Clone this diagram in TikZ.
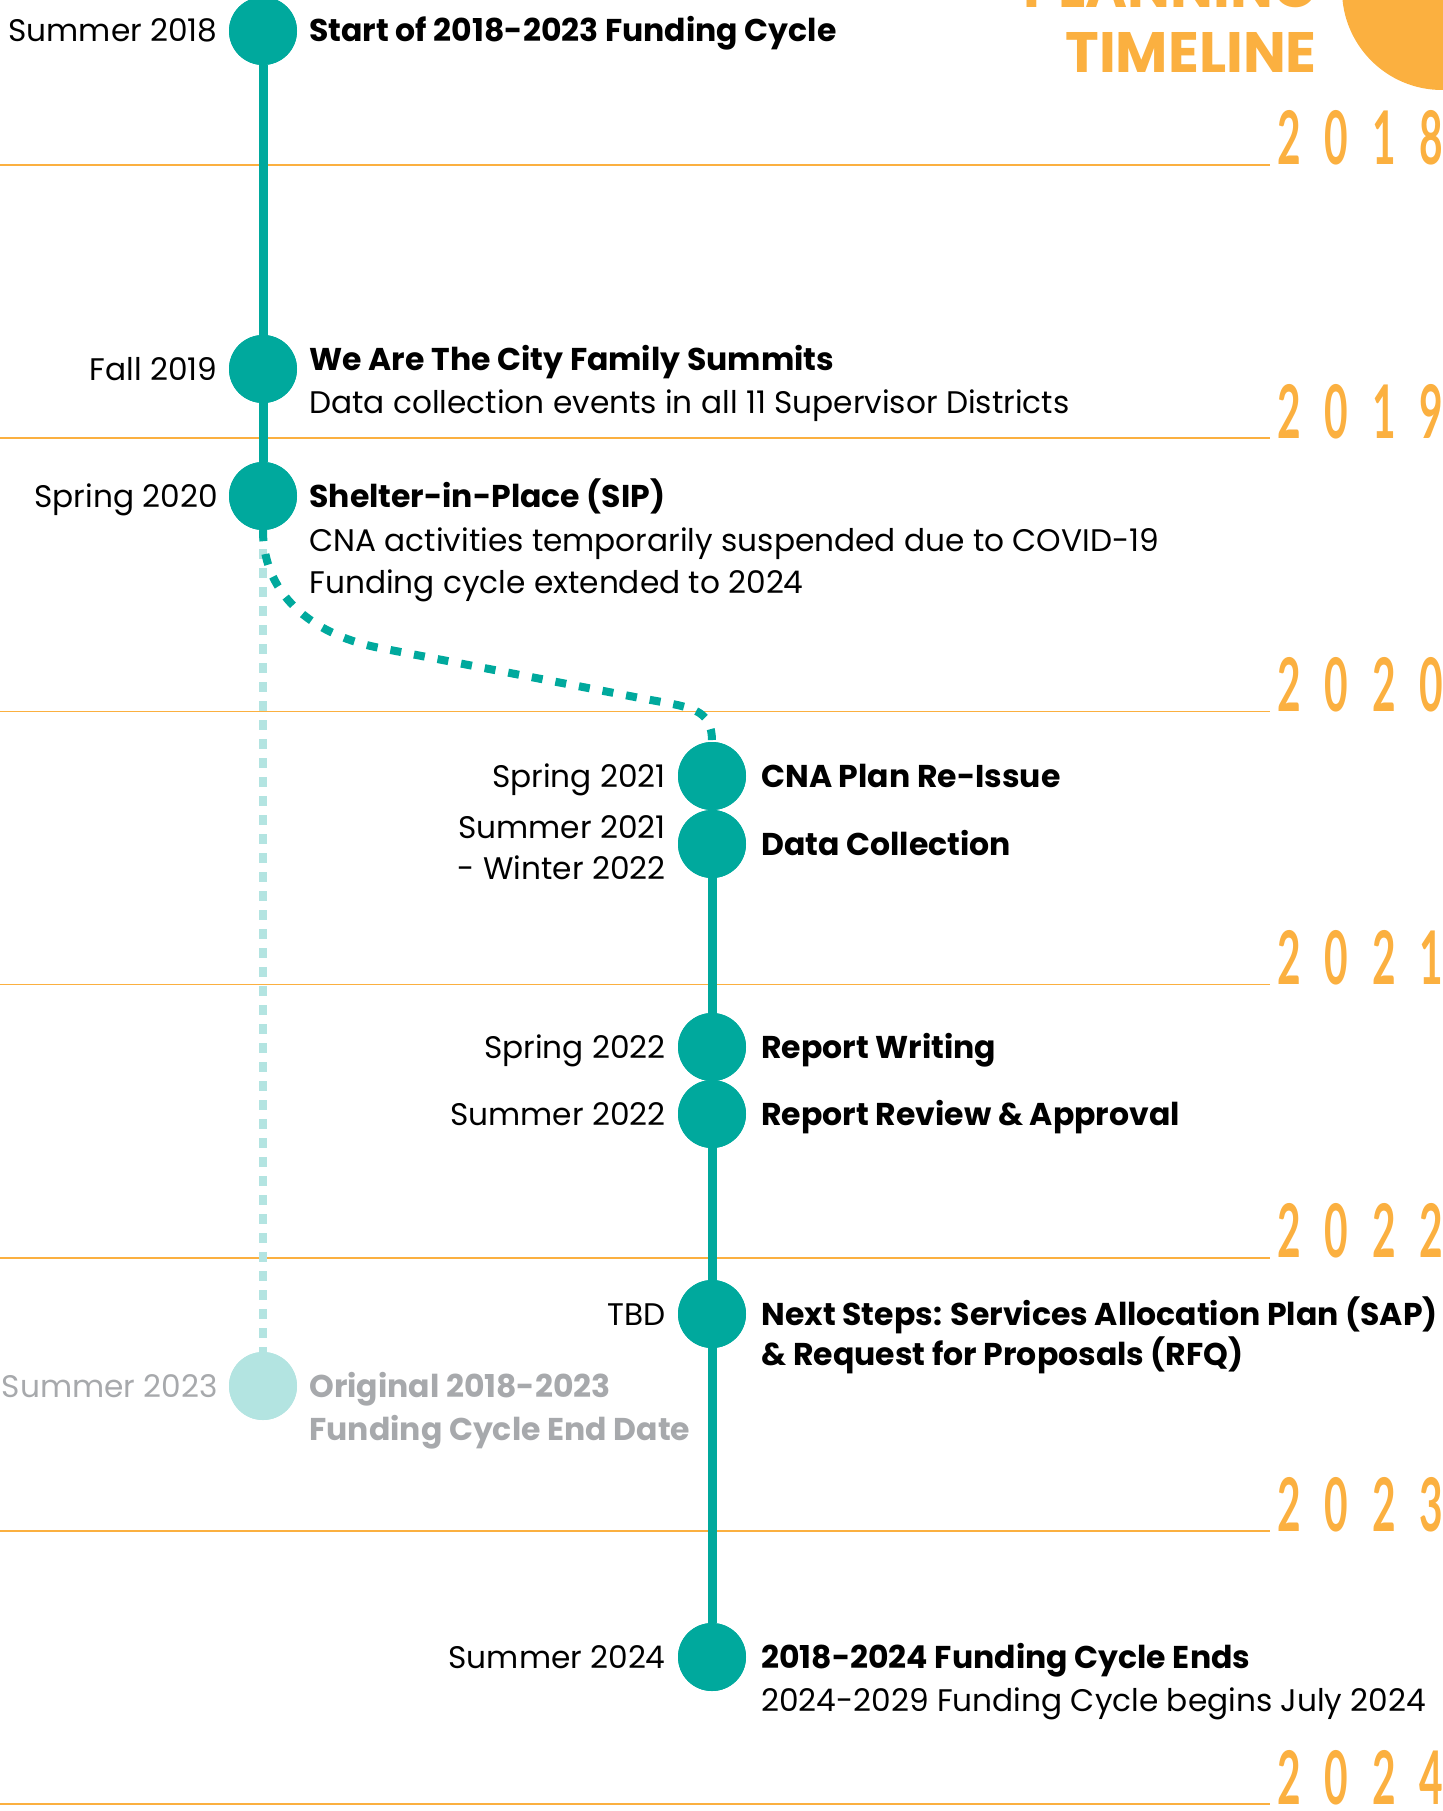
\documentclass[tikz,border=0pt]{standalone}
\usepackage{graphicx}
\usepackage{fontspec}
\setmainfont{Poppins}
\newfontfamily\yearfont{Lato}
\usetikzlibrary{positioning}

\definecolor{tlTeal}{HTML}{00A99D}
\definecolor{tlPale}{HTML}{B3E4E1}
\definecolor{tlOrange}{HTML}{FBB040}
\definecolor{tlGray}{HTML}{A7A9AC}

\newcommand{\regtext}{\fontsize{31.2}{36}\selectfont}
\newcommand{\boldtext}{\fontsize{31.5}{36}\selectfont\bfseries}

\tikzset{
  dot/.style = {circle, fill=tlTeal, minimum size=68pt, inner sep=0pt},
  ghostdot/.style = {dot, fill=tlPale},
  when/.style = {font=\regtext, inner sep=0pt, text height=22pt, text depth=0pt},
  what/.style = {font=\boldtext, inner sep=0pt, text height=22pt, text depth=0pt},
  note/.style = {font=\regtext, inner sep=0pt, text height=22pt, text depth=0pt},
  stem/.style = {draw=tlTeal, line width=9pt},
  yearrule/.style = {draw=tlOrange, line width=1.5pt},
  yeardigit/.style = {text=tlOrange, inner sep=0pt, anchor=base},
  headline/.style = {font=\fontsize{57}{60}\selectfont\bfseries, text=tlOrange, inner sep=0pt, anchor=base east},
}

\begin{document}
\begin{tikzpicture}[x=1pt, y=1pt]
    \useasboundingbox (0,0) rectangle (1442,-1811);

    % heading
    \fill[tlOrange] (1442,10) circle[radius=100];
    \node[headline] (hdTop) at (1317,-8) {PLANNING};
    \node[headline] (hdBot) at (1317,-73) {TIMELINE};

    % year rules
    \foreach \ya/\yb/\yc/\yd [count=\k from 0] in {2/0/1/8, 2/0/1/9, 2/0/2/0, 2/0/2/1, 2/0/2/2, 2/0/2/3, 2/0/2/4} {
        \pgfmathsetmacro{\ry}{-165-273.2*\k}
        \draw[yearrule] (0,\ry) -- (1270,\ry);
        \foreach \dg [count=\j from 0] in {\ya,\yb,\yc,\yd}
            \node[yeardigit] (yr\k-\j) at (1289+47.5*\j,\ry) {\scalebox{0.55}[1]{\fontsize{74}{74}\selectfont\yearfont\bfseries\dg}};
    }

    % dots
    \node[dot] (s18) at (263,-31) {};
    \node[dot] (f19) at (263,-369) {};
    \node[dot] (sp20) at (263,-496) {};
    \node[ghostdot] (so23) at (263,-1386) {};
    \node[dot] (sp21) at (712,-776) {};
    \node[dot] (su21) at (712,-844) {};
    \node[dot] (sp22) at (712,-1047) {};
    \node[dot] (su22) at (712,-1114) {};
    \node[dot] (tbd) at (712,-1314) {};
    \node[dot] (su24) at (712,-1657) {};

    % stems
    \draw[stem] (s18) -- (sp20);
    \draw[stem] (sp21) -- (su24);
    \draw[draw=tlPale, line width=8pt, dash pattern=on 10pt off 9pt] (sp20.south) -- (so23.north);
    \draw[draw=tlTeal, line width=8pt, dash pattern=on 11pt off 13pt]
        (sp20.south) .. controls +(0,-70) and +(-60,11.5) .. (380,-648)
        -- (640,-698) .. controls +(50,-9.6) and +(0,35) .. (sp21.north);
    \foreach \d in {s18,f19,sp20,sp21,su21,sp22,su22,tbd,su24}
        \node[dot] at (\d) {};
    \node[ghostdot] at (so23) {};

    % left column
    \node[when, left=11pt of s18] (ds18) {Summer 2018};
    \node[what, right=12pt of s18] (ws18) {Start of 2018-2023 Funding Cycle};

    \node[when, left=11pt of f19] (df19) {Fall 2019};
    \node[what, right=12pt of f19, yshift=10pt] (wf19) {We Are The City Family Summits};
    \node[note, below=21pt of wf19.south west, anchor=north west] (nf19) {Data collection events in all 11 Supervisor Districts};

    \node[when, left=11pt of sp20] (dsp20) {Spring 2020};
    \node[what, right=12pt of sp20] (wsp20) {Shelter-in-Place (SIP)};
    \node[note, below=22pt of wsp20.south west, anchor=north west] (nsp20a) {CNA activities temporarily suspended due to COVID-19};
    \node[note, below=20pt of nsp20a.south west, anchor=north west] (nsp20b) {Funding cycle extended to 2024};

    \node[when, left=11pt of so23, text=tlGray] (dso23) {Summer 2023};
    \node[what, right=12pt of so23, text=tlGray] (wso23a) {Original 2018-2023};
    \node[what, below=21pt of wso23a.south west, anchor=north west, text=tlGray] (wso23b) {Funding Cycle End Date};

    % right column
    \node[when, left=12pt of sp21] (dsp21) {Spring 2021};
    \node[what, right=15pt of sp21] (wsp21) {CNA Plan Re-Issue};

    \node[when, anchor=east] (dsu21a) at ([xshift=-12pt, yshift=17pt]su21.west) {Summer 2021};
    \node[when, below=19pt of dsu21a.south east, anchor=north east] (dsu21b) {- Winter 2022};
    \node[what, right=15pt of su21] (wsu21) {Data Collection};

    \node[when, left=12pt of sp22] (dsp22) {Spring 2022};
    \node[what, right=15pt of sp22] (wsp22) {Report Writing};

    \node[when, left=12pt of su22] (dsu22) {Summer 2022};
    \node[what, right=15pt of su22] (wsu22) {Report Review \& Approval};

    \node[when, left=12pt of tbd] (dtbd) {TBD};
    \node[what, right=15pt of tbd] (wtbda) {Next Steps: Services Allocation Plan (SAP)};
    \node[what, below=18pt of wtbda.south west, anchor=north west] (wtbdb) {\& Request for Proposals (RFQ)};

    \node[when, left=12pt of su24] (dsu24) {Summer 2024};
    \node[what, right=15pt of su24] (wsu24) {2018-2024 Funding Cycle Ends};
    \node[note, below=21pt of wsu24.south west, anchor=north west] (nsu24) {2024-2029 Funding Cycle begins July 2024};
\end{tikzpicture}
\end{document}
